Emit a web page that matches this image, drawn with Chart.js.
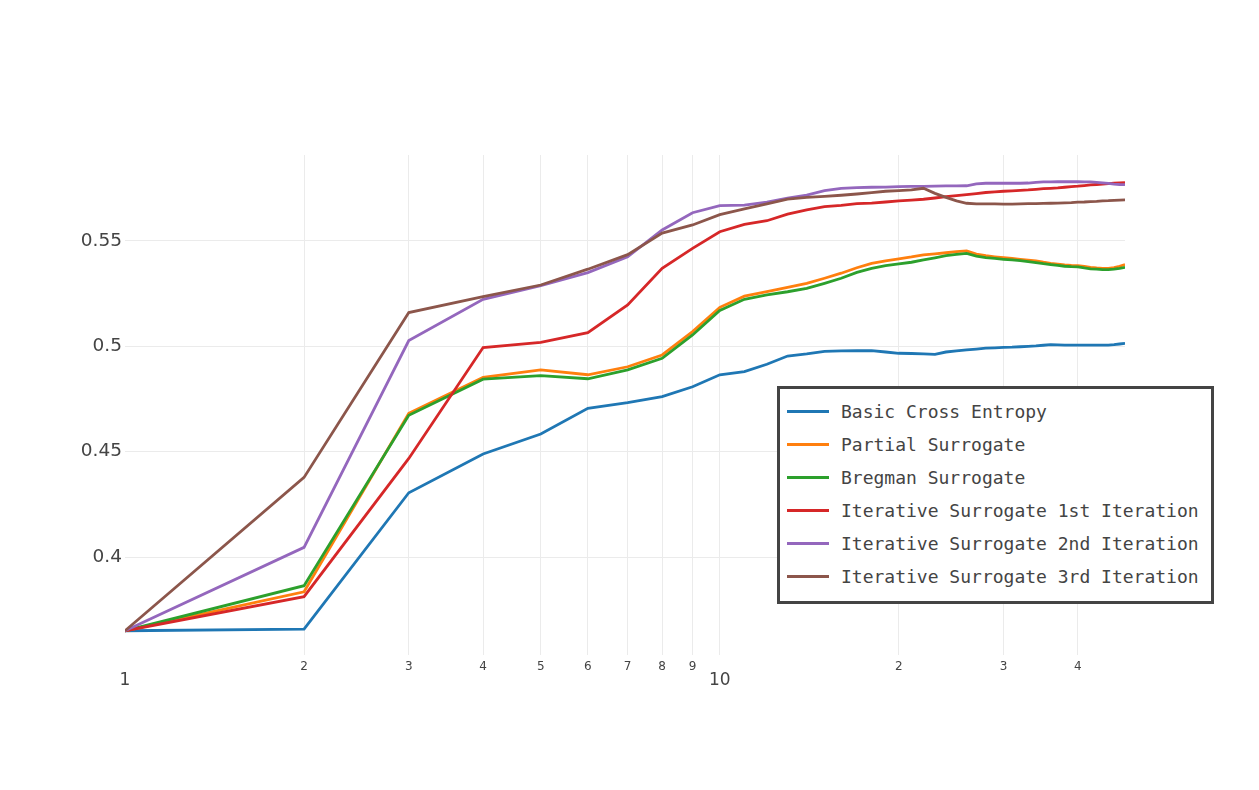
<!DOCTYPE html>
<html>
<head>
<meta charset="utf-8">
<script src="https://cdn.jsdelivr.net/npm/chart.js@4.4.1/dist/chart.umd.min.js"></script>
<style>
  body { margin: 0; background: #fff; }
  #wrap { position: relative; width: 1259px; height: 790px; }
  #legend {
    position: absolute; left: 777px; top: 386px; width: 437px; height: 218px;
    box-sizing: border-box; border: 3px solid #444; background: #fff;
    padding: 6px 0 0 0; font-family: "DejaVu Sans Mono", monospace; font-size: 18px; color: #444;
  }
  .item { height: 33px; display: flex; align-items: center; }
  .swatch { width: 42px; height: 3px; margin-left: 7px; margin-right: 12px; }
</style>
</head>
<body>
<div id="wrap">
  <canvas id="myChart"></canvas>
  <div id="legend"></div>
</div>
<script>
const ctx = document.getElementById('myChart');

const steps = [1, 2, 3, 4, 5, 6, 7, 8, 9, 10, 11, 12, 13, 14, 15, 16, 17, 18, 19, 20, 21, 22, 23, 24,
  25, 26, 27, 28, 29, 30, 31, 32, 33, 34, 35, 36, 37, 38, 39, 40, 41, 42, 43, 44, 45, 46, 47, 48];

const seriesNames = ['Basic Cross Entropy', 'Partial Surrogate', 'Bregman Surrogate',
  'Iterative Surrogate 1st Iteration', 'Iterative Surrogate 2nd Iteration', 'Iterative Surrogate 3rd Iteration'];
const seriesColors = ['#1f77b4', '#ff7f0e', '#2ca02c', '#d62728', '#9467bd', '#8c564b'];

const basicCE = [0.365, 0.3658, 0.4305, 0.4489, 0.4584, 0.4706, 0.4733, 0.4761, 0.4808, 0.4865, 0.488, 0.4915,
  0.4954, 0.4964, 0.4976, 0.4978, 0.4979, 0.498, 0.4973, 0.4967, 0.4966, 0.4964, 0.4962, 0.4973,
  0.4978, 0.4983, 0.4987, 0.4991, 0.4993, 0.4995, 0.4996, 0.4998, 0.5, 0.5002, 0.5005, 0.5008,
  0.5007, 0.5006, 0.5006, 0.5006, 0.5006, 0.5006, 0.5006, 0.5006, 0.5006, 0.5008, 0.5011, 0.5014];

const partial = [0.365, 0.3835, 0.4682, 0.4853, 0.4888, 0.4865, 0.4903, 0.4959, 0.507, 0.5185, 0.5238, 0.5259,
  0.528, 0.5299, 0.5323, 0.5347, 0.5373, 0.5394, 0.5406, 0.5415, 0.5424, 0.5434, 0.5439, 0.5444,
  0.5449, 0.5453, 0.5438, 0.543, 0.5425, 0.5421, 0.5417, 0.5413, 0.5409, 0.5405, 0.5399, 0.5394,
  0.539, 0.5386, 0.5384, 0.5383, 0.5379, 0.5375, 0.5372, 0.537, 0.537, 0.5373, 0.538, 0.5388];

const bregman = [0.365, 0.3864, 0.4673, 0.4844, 0.4861, 0.4846, 0.4888, 0.4943, 0.5054, 0.517, 0.5223, 0.5244,
  0.5259, 0.5275, 0.5299, 0.5323, 0.5351, 0.537, 0.5383, 0.5391, 0.5399, 0.541, 0.542, 0.543,
  0.5436, 0.5441, 0.5428, 0.5421, 0.5417, 0.5413, 0.541, 0.5407, 0.5402, 0.5397, 0.5392, 0.5388,
  0.5384, 0.538, 0.5378, 0.5377, 0.5372, 0.5368, 0.5366, 0.5364, 0.5364, 0.5366, 0.537, 0.5375];

const iter1 = [0.365, 0.3812, 0.4468, 0.4994, 0.5019, 0.5065, 0.5196, 0.537, 0.5465, 0.5544, 0.5579, 0.5596,
  0.5627, 0.5647, 0.5663, 0.5669, 0.5677, 0.568, 0.5685, 0.569, 0.5694, 0.5698, 0.5704, 0.571,
  0.5715, 0.572, 0.5725, 0.573, 0.5733, 0.5736, 0.5738, 0.574, 0.5742, 0.5745, 0.5748, 0.575,
  0.5752, 0.5755, 0.5758, 0.576, 0.5763, 0.5766, 0.5768, 0.577, 0.5772, 0.5775, 0.5776, 0.5777];

const iter2 = [0.365, 0.4046, 0.5027, 0.5223, 0.5288, 0.535, 0.5425, 0.5552, 0.5634, 0.5668, 0.567, 0.5684,
  0.5703, 0.5718, 0.5739, 0.575, 0.5753, 0.5755, 0.5756, 0.5758, 0.5759, 0.5759, 0.576, 0.5761,
  0.5761, 0.5762, 0.5771, 0.5774, 0.5774, 0.5774, 0.5774, 0.5774, 0.5775, 0.5778, 0.578, 0.578,
  0.5781, 0.5781, 0.5781, 0.5781, 0.578, 0.578, 0.5778, 0.5776, 0.5773, 0.577, 0.5768, 0.5767];

const iter3 = [0.365, 0.4378, 0.516, 0.5236, 0.5291, 0.5366, 0.5435, 0.5537, 0.5576, 0.5625, 0.5652, 0.5676,
  0.5699, 0.5707, 0.5712, 0.5717, 0.5723, 0.5729, 0.5736, 0.5739, 0.5742, 0.575, 0.5726, 0.5707,
  0.569, 0.5679, 0.5676, 0.5676, 0.5676, 0.5675, 0.5675, 0.5676, 0.5677, 0.5677, 0.5678, 0.5679,
  0.568, 0.5681, 0.5682, 0.5684, 0.5685, 0.5687, 0.5688, 0.569, 0.5691, 0.5693, 0.5694, 0.5695];

const allSeries = [basicCE, partial, bregman, iter1, iter2, iter3];

// x tick labels: decades big, the rest small digits
const bigTicks = [1, 10];
const smallTicks = [2, 3, 4, 5, 6, 7, 8, 9, 20, 30, 40];

const datasets = allSeries.map((vals, i) => ({
  label: seriesNames[i],
  data: vals.map((v, j) => ({ x: steps[j], y: v })),
  borderColor: seriesColors[i],
  backgroundColor: seriesColors[i],
  borderWidth: 2.8,
  pointRadius: 0,
  tension: 0,
  order: allSeries.length - i   // later traces on top
}));

new Chart(ctx, {
  type: 'line',
  data: { datasets },
  options: {
    responsive: true,
    maintainAspectRatio: false,
    animation: false,
    layout: { padding: { left: 0, right: 134, top: 155, bottom: 95 } },
    plugins: { legend: { display: false }, tooltip: { enabled: false } },
    scales: {
      x: {
        type: 'logarithmic',
        min: 1,
        max: 48,
        border: { display: false },
        grid: {
          drawTicks: false,
          color: c => (c.tick && (bigTicks.includes(c.tick.value) && c.tick.value !== 1 || smallTicks.includes(c.tick.value))) ? '#ebebeb' : 'rgba(0,0,0,0)',
          lineWidth: 1
        },
        ticks: {
          autoSkip: false,
          maxRotation: 0,
          padding: 5,
          color: '#444',
          font: c => {
            const v = c.tick ? c.tick.value : 0;
            if (bigTicks.includes(v)) return { family: 'DejaVu Sans', size: 17, lineHeight: 2.4 };
            return { family: 'DejaVu Sans', size: 12, lineHeight: 1.2 };
          },
          callback: function (value) {
            if (bigTicks.includes(value)) return String(value);
            if (smallTicks.includes(value)) return String(value >= 10 ? value / 10 : value);
            return '';
          }
        },
        afterFit: scale => { scale.height = 40; }
      },
      y: {
        min: 0.3535,
        max: 0.5908,
        border: { display: false },
        grid: { drawTicks: false, color: '#ebebeb', lineWidth: 1 },
        ticks: {
          stepSize: 0.05,
          includeBounds: false,
          padding: 3,
          color: '#444',
          font: { family: 'DejaVu Sans', size: 18.5 },
          callback: v => String(+v.toFixed(2))
        },
        afterFit: scale => { scale.width = 125; }
      }
    }
  }
});

// legend box, built from the same names and colours
const legendBox = document.getElementById('legend');
seriesNames.forEach((name, i) => {
  const row = document.createElement('div');
  row.className = 'item';
  const sw = document.createElement('span');
  sw.className = 'swatch';
  sw.style.background = seriesColors[i];
  const txt = document.createElement('span');
  txt.textContent = name;
  row.appendChild(sw);
  row.appendChild(txt);
  legendBox.appendChild(row);
});
</script>
</body>
</html>
